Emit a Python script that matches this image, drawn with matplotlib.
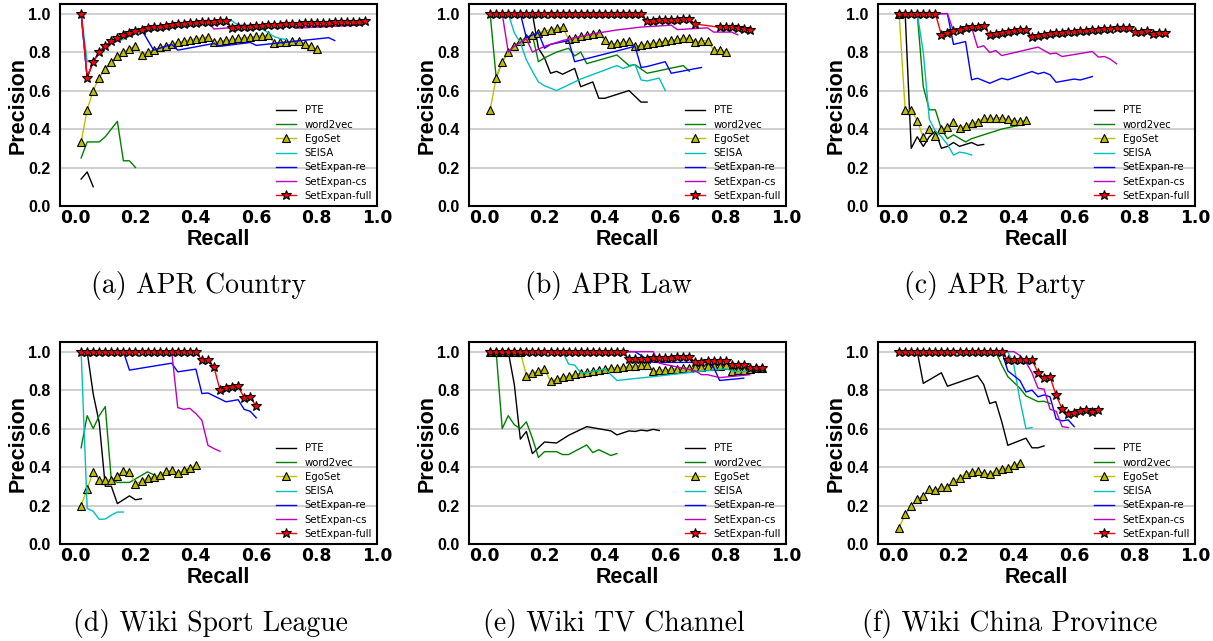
import matplotlib
matplotlib.use("Agg")
import matplotlib.pyplot as plt

# ---------------- data ----------------
LABELS = ["PTE", "word2vec", "EgoSet", "SEISA", "SetExpan-re", "SetExpan-cs", "SetExpan-full"]
CAPTIONS = ["(a) APR Country", "(b) APR Law", "(c) APR Party",
            "(d) Wiki Sport League", "(e) Wiki TV Channel", "(f) Wiki China Province"]
Y_TICKS = [0.0, 0.2, 0.4, 0.6, 0.8, 1.0]
X_TICKS = [0.0, 0.2, 0.4, 0.6, 0.8, 1.0]

RECALL = [0.02, 0.04, 0.06, 0.08, 0.10, 0.12, 0.14, 0.16, 0.18, 0.20, 0.22, 0.24,
          0.26, 0.28, 0.30, 0.32, 0.34, 0.36, 0.38, 0.40, 0.42, 0.44, 0.46, 0.48,
          0.50, 0.52, 0.54, 0.56, 0.58, 0.60, 0.62, 0.64, 0.66, 0.68, 0.70, 0.72,
          0.74, 0.76, 0.78, 0.80, 0.82, 0.84, 0.86, 0.88, 0.90, 0.92, 0.94, 0.96]

# (a) APR Country
a_pte_x = [0.02, 0.04, 0.06]
a_pte_y = [0.14, 0.177, 0.10]
a_w2v_x = [0.02, 0.04, 0.06, 0.08, 0.10, 0.12, 0.14, 0.16, 0.18, 0.20]
a_w2v_y = [0.25, 0.333, 0.333, 0.333, 0.36, 0.40, 0.44, 0.235, 0.235, 0.20]
a_ego_y = [0.333, 0.50, 0.60, 0.667, 0.714, 0.75, 0.778, 0.80, 0.818, 0.833,
           0.786, 0.80, 0.812, 0.824, 0.833, 0.842, 0.85, 0.857, 0.864, 0.87,
           0.875, 0.88, 0.852, 0.857, 0.862, 0.867, 0.871, 0.875, 0.879, 0.882,
           0.886, 0.889, 0.846, 0.85, 0.854, 0.857, 0.86, 0.844, 0.83, 0.815]
a_seisa_y = [1.0, 0.75, 0.75, 0.80, 0.833, 0.846, 0.857, 0.867, 0.882, 0.90,
             0.909, 0.917, 0.923, 0.929, 0.933, 0.9375, 0.941, 0.944, 0.947, 0.95,
             0.952, 0.955, 0.957, 0.96, 0.965, 0.962, 0.94, 0.94, 0.94, 0.94,
             0.92, 0.90, 0.88, 0.87, 0.865]
a_re_x = [0.02, 0.04, 0.06, 0.08, 0.10, 0.12, 0.14, 0.16, 0.18, 0.20, 0.22, 0.26,
          0.32, 0.34, 0.46, 0.48, 0.58, 0.60, 0.84, 0.86]
a_re_y = [1.0, 0.667, 0.75, 0.80, 0.833, 0.857, 0.875, 0.889, 0.90, 0.909, 0.917, 0.81,
          0.84, 0.81, 0.845, 0.83, 0.85, 0.835, 0.875, 0.86]
a_cs_x = [0.02, 0.04, 0.06, 0.08, 0.10, 0.12, 0.14, 0.16, 0.18, 0.20, 0.22, 0.24,
          0.26, 0.28, 0.30, 0.32, 0.34, 0.36, 0.38, 0.40, 0.42, 0.44, 0.46, 0.50,
          0.52, 0.54, 0.60, 0.66, 0.72, 0.74, 0.94]
a_cs_y = [1.0, 0.667, 0.75, 0.80, 0.833, 0.857, 0.875, 0.889, 0.90, 0.909, 0.917, 0.923,
          0.929, 0.933, 0.9375, 0.941, 0.944, 0.947, 0.95, 0.952, 0.955, 0.957, 0.92, 0.925,
          0.926, 0.929, 0.935, 0.941, 0.946, 0.925, 0.94]
a_full_y = [1.0, 0.667, 0.75, 0.80, 0.833, 0.857, 0.875, 0.889, 0.90, 0.909,
            0.917, 0.923, 0.929, 0.933, 0.9375, 0.941, 0.944, 0.947, 0.95, 0.952,
            0.955, 0.957, 0.958, 0.96, 0.962, 0.926, 0.929, 0.931, 0.933, 0.935,
            0.9375, 0.939, 0.941, 0.943, 0.944, 0.946, 0.947, 0.949, 0.95, 0.951,
            0.952, 0.953, 0.955, 0.956, 0.957, 0.958, 0.959, 0.96]

# (b) APR Law
b_pte_x = [0.02, 0.16, 0.18, 0.20, 0.22, 0.24, 0.26, 0.30, 0.32, 0.36, 0.38, 0.40, 0.48, 0.52, 0.54]
b_pte_y = [1.0, 1.0, 0.82, 0.77, 0.69, 0.70, 0.685, 0.715, 0.62, 0.645, 0.56, 0.56, 0.60, 0.54, 0.54]
b_w2v_x = [0.02, 0.04, 0.06, 0.08, 0.10, 0.12, 0.14, 0.16, 0.18, 0.20, 0.24, 0.28, 0.30, 0.32,
           0.34, 0.44, 0.48, 0.50, 0.54, 0.66, 0.68]
b_w2v_y = [1.0, 0.667, 0.75, 0.80, 0.833, 0.857, 0.875, 0.889, 0.75, 0.77, 0.80, 0.82, 0.78, 0.80,
           0.74, 0.785, 0.73, 0.735, 0.69, 0.73, 0.70]
b_ego_y = [0.50, 0.667, 0.75, 0.80, 0.833, 0.857, 0.875, 0.889, 0.90, 0.909,
           0.917, 0.923, 0.929, 0.867, 0.875, 0.882, 0.889, 0.895, 0.90, 0.864,
           0.84, 0.846, 0.852, 0.857, 0.83, 0.836, 0.842, 0.847, 0.852, 0.857,
           0.862, 0.867, 0.871, 0.875, 0.853, 0.857, 0.86, 0.81, 0.813, 0.80]
b_seisa_x = [0.02, 0.08, 0.10, 0.12, 0.14, 0.16, 0.18, 0.20, 0.24, 0.32, 0.44, 0.46, 0.50,
             0.52, 0.54, 0.58, 0.60]
b_seisa_y = [1.0, 1.0, 0.90, 0.85, 0.76, 0.70, 0.645, 0.625, 0.60, 0.66, 0.73, 0.715, 0.735,
             0.655, 0.65, 0.665, 0.60]
b_re_x = [0.02, 0.12, 0.14, 0.16, 0.18, 0.20, 0.22, 0.28, 0.30, 0.40, 0.50, 0.52, 0.54, 0.60, 0.62, 0.72]
b_re_y = [1.0, 1.0, 0.875, 0.889, 0.90, 0.82, 0.84, 0.86, 0.75, 0.79, 0.83, 0.72, 0.725, 0.75, 0.69, 0.72]
b_cs_x = [0.02, 0.04, 0.06, 0.08, 0.10, 0.12, 0.14, 0.16, 0.20, 0.26, 0.30, 0.36, 0.44, 0.52,
          0.62, 0.64, 0.74, 0.76, 0.82, 0.84]
b_cs_y = [1.0, 1.0, 1.0, 0.80, 0.83, 0.85, 0.87, 0.80, 0.83, 0.86, 0.875, 0.895, 0.915, 0.93,
          0.94, 0.917, 0.926, 0.904, 0.904, 0.89]
b_full_x = [0.02, 0.04, 0.06, 0.08, 0.10, 0.12, 0.14, 0.16, 0.18, 0.20, 0.22, 0.24, 0.26,
            0.28, 0.30, 0.32, 0.34, 0.36, 0.38, 0.40, 0.42, 0.44, 0.46, 0.48, 0.50, 0.52,
            0.54, 0.56, 0.58, 0.60, 0.62, 0.64, 0.66, 0.68, 0.70,
            0.78, 0.80, 0.82, 0.84, 0.86, 0.88]
b_full_y = [1.0, 1.0, 1.0, 1.0, 1.0, 1.0, 1.0, 1.0, 1.0, 1.0, 1.0, 1.0, 1.0,
            1.0, 1.0, 1.0, 1.0, 1.0, 1.0, 1.0, 1.0, 1.0, 1.0, 1.0, 1.0, 1.0,
            0.963, 0.964, 0.966, 0.967, 0.968, 0.969, 0.970, 0.971, 0.946,
            0.929, 0.931, 0.933, 0.925, 0.92, 0.915]

# (c) APR Party
c_pte_x = [0.02, 0.04, 0.06, 0.08, 0.10, 0.12, 0.14, 0.16, 0.18, 0.20, 0.22, 0.24, 0.26, 0.28, 0.30]
c_pte_y = [1.0, 1.0, 0.30, 0.36, 0.31, 0.36, 0.39, 0.30, 0.31, 0.33, 0.31, 0.32, 0.33, 0.315, 0.32]
c_w2v_x = [0.02, 0.08, 0.10, 0.12, 0.14, 0.16, 0.18, 0.20, 0.24, 0.26, 0.32, 0.36, 0.42]
c_w2v_y = [1.0, 1.0, 0.62, 0.50, 0.50, 0.40, 0.35, 0.37, 0.333, 0.35, 0.38, 0.40, 0.42]
c_ego_y = [1.0, 0.50, 0.50, 0.444, 0.357, 0.40, 0.364, 0.40, 0.409, 0.435,
           0.407, 0.414, 0.433, 0.438, 0.455, 0.455, 0.457, 0.46, 0.45, 0.444,
           0.442, 0.445]
c_seisa_x = [0.02, 0.08, 0.10, 0.12, 0.14, 0.16, 0.18, 0.20, 0.22, 0.24, 0.26]
c_seisa_y = [1.0, 1.0, 0.80, 0.45, 0.39, 0.36, 0.32, 0.265, 0.28, 0.275, 0.265]
c_re_x = [0.02, 0.18, 0.20, 0.24, 0.26, 0.28, 0.32, 0.36, 0.38, 0.46, 0.48, 0.50, 0.52, 0.54,
          0.60, 0.62, 0.66]
c_re_y = [1.0, 1.0, 0.84, 0.855, 0.656, 0.664, 0.638, 0.664, 0.656, 0.699, 0.687, 0.695, 0.682,
          0.643, 0.66, 0.655, 0.673]
c_cs_x = [0.02, 0.18, 0.20, 0.22, 0.24, 0.26, 0.28, 0.30, 0.32, 0.34, 0.36, 0.48, 0.52, 0.54,
          0.56, 0.66, 0.68, 0.70, 0.72, 0.74]
c_cs_y = [1.0, 1.0, 0.909, 0.917, 0.923, 0.929, 0.824, 0.833, 0.798, 0.808, 0.782, 0.826, 0.791,
          0.795, 0.777, 0.803, 0.774, 0.777, 0.763, 0.739]
c_full_y = [1.0, 1.0, 1.0, 1.0, 1.0, 1.0, 1.0,
            0.889, 0.90, 0.909, 0.917, 0.923, 0.929, 0.933, 0.9375,
            0.889, 0.895, 0.90, 0.905, 0.909, 0.913, 0.917,
            0.88, 0.885, 0.889, 0.893, 0.897, 0.90, 0.903, 0.906, 0.909, 0.912,
            0.914, 0.917, 0.919, 0.921, 0.923, 0.925, 0.927,
            0.905, 0.907, 0.909, 0.895, 0.897, 0.90]

# (d) Wiki Sport League
d_pte_x = [0.02, 0.04, 0.06, 0.08, 0.10, 0.12, 0.14, 0.16, 0.18, 0.20, 0.22]
d_pte_y = [1.0, 1.0, 0.78, 0.63, 0.30, 0.30, 0.21, 0.23, 0.25, 0.23, 0.235]
d_w2v_x = [0.02, 0.04, 0.06, 0.08, 0.10, 0.12, 0.14, 0.18, 0.24, 0.26]
d_w2v_y = [0.50, 0.667, 0.60, 0.667, 0.714, 0.333, 0.32, 0.32, 0.375, 0.36]
d_ego_y = [0.20, 0.286, 0.375, 0.333, 0.333, 0.333, 0.353, 0.38, 0.375, 0.313,
           0.326, 0.343, 0.35, 0.357, 0.378, 0.383, 0.369, 0.383, 0.397, 0.409]
d_seisa_x = [0.02, 0.04, 0.06, 0.08, 0.10, 0.12, 0.14, 0.16]
d_seisa_y = [1.0, 0.185, 0.17, 0.128, 0.13, 0.15, 0.166, 0.166]
d_re_x = [0.02, 0.16, 0.18, 0.32, 0.34, 0.40, 0.42, 0.44, 0.50, 0.54, 0.56, 0.58, 0.60]
d_re_y = [1.0, 1.0, 0.904, 0.94, 0.895, 0.909, 0.782, 0.785, 0.739, 0.75, 0.70, 0.69, 0.656]
d_cs_x = [0.02, 0.32, 0.34, 0.36, 0.38, 0.40, 0.42, 0.44, 0.46, 0.48]
d_cs_y = [1.0, 1.0, 0.709, 0.70, 0.705, 0.678, 0.643, 0.513, 0.496, 0.482]
d_full_y = [1.0, 1.0, 1.0, 1.0, 1.0, 1.0, 1.0, 1.0, 1.0, 1.0,
            1.0, 1.0, 1.0, 1.0, 1.0, 1.0, 1.0, 1.0, 1.0, 1.0,
            0.955, 0.957, 0.92, 0.80, 0.81, 0.815, 0.82, 0.76, 0.765, 0.715]

# (e) Wiki TV Channel
e_pte_x = [0.02, 0.08, 0.10, 0.12, 0.14, 0.16, 0.20, 0.24, 0.28, 0.34, 0.42, 0.44, 0.48, 0.50,
           0.52, 0.54, 0.56, 0.58]
e_pte_y = [1.0, 1.0, 0.83, 0.545, 0.585, 0.47, 0.53, 0.525, 0.565, 0.61, 0.588, 0.567, 0.588,
           0.585, 0.592, 0.588, 0.596, 0.59]
e_w2v_x = [0.02, 0.04, 0.06, 0.08, 0.10, 0.12, 0.14, 0.16, 0.18, 0.20, 0.24, 0.26, 0.28, 0.34,
           0.36, 0.38, 0.42, 0.44]
e_w2v_y = [1.0, 1.0, 0.60, 0.667, 0.62, 0.60, 0.635, 0.55, 0.45, 0.48, 0.48, 0.465, 0.465, 0.515,
           0.475, 0.49, 0.46, 0.47]
e_ego_y = [1.0, 1.0, 1.0, 1.0, 1.0, 1.0,
           0.875, 0.889, 0.90, 0.909,
           0.846, 0.857, 0.867, 0.875, 0.882, 0.889, 0.895, 0.90, 0.905, 0.909,
           0.913, 0.917, 0.92, 0.923, 0.926, 0.929, 0.931,
           0.90, 0.903, 0.906, 0.909, 0.912, 0.914, 0.917, 0.919, 0.921, 0.923,
           0.925, 0.927, 0.929,
           0.90, 0.902, 0.905, 0.91, 0.913, 0.915]
e_seisa_x = [0.02, 0.26, 0.28, 0.30, 0.32, 0.34, 0.40, 0.44, 0.56, 0.70, 0.80, 0.84, 0.92]
e_seisa_y = [1.0, 1.0, 0.935, 0.93, 0.89, 0.89, 0.91, 0.85, 0.87, 0.895, 0.91, 0.895, 0.90]
e_re_x = [0.02, 0.50, 0.54, 0.56, 0.74, 0.76, 0.78, 0.86]
e_re_y = [1.0, 1.0, 0.96, 0.944, 0.944, 0.92, 0.85, 0.862]
e_cs_x = [0.02, 0.56, 0.58, 0.64, 0.70, 0.72, 0.74, 0.78, 0.88]
e_cs_y = [1.0, 1.0, 0.94, 0.92, 0.90, 0.88, 0.88, 0.865, 0.88]
e_full_y = [1.0, 1.0, 1.0, 1.0, 1.0, 1.0, 1.0, 1.0, 1.0, 1.0, 1.0, 1.0,
            1.0, 1.0, 1.0, 1.0, 1.0, 1.0, 1.0, 1.0, 1.0, 1.0, 1.0,
            0.96, 0.962, 0.963, 0.964, 0.966, 0.967, 0.968, 0.969, 0.97, 0.971, 0.972,
            0.946, 0.947, 0.949, 0.95, 0.951, 0.952,
            0.93, 0.932, 0.933, 0.913, 0.915, 0.917]

# (f) Wiki China Province
f_pte_x = [0.02, 0.08, 0.10, 0.16, 0.18, 0.28, 0.30, 0.32, 0.34, 0.36, 0.38, 0.44, 0.46, 0.48, 0.50]
f_pte_y = [1.0, 1.0, 0.835, 0.89, 0.82, 0.875, 0.83, 0.73, 0.74, 0.635, 0.513, 0.55, 0.50, 0.50, 0.51]
f_w2v_x = [0.02, 0.34, 0.36, 0.38, 0.42, 0.44, 0.48, 0.50, 0.52]
f_w2v_y = [1.0, 1.0, 0.93, 0.87, 0.81, 0.77, 0.74, 0.742, 0.73]
f_ego_y = [0.084, 0.154, 0.20, 0.236, 0.25, 0.284, 0.279, 0.296, 0.296, 0.326,
           0.343, 0.366, 0.374, 0.38, 0.369, 0.362, 0.38, 0.392, 0.395, 0.409, 0.421]
f_seisa_x = [0.02, 0.38, 0.40, 0.42, 0.44, 0.46]
f_seisa_y = [1.0, 1.0, 0.93, 0.75, 0.60, 0.605]
f_re_x = [0.02, 0.36, 0.38, 0.40, 0.42, 0.44, 0.46, 0.48, 0.50, 0.52, 0.54, 0.56, 0.58, 0.60]
f_re_y = [1.0, 1.0, 0.90, 0.875, 0.85, 0.79, 0.80, 0.765, 0.775, 0.765, 0.65, 0.64, 0.645, 0.61]
f_cs_x = [0.02, 0.40, 0.42, 0.44, 0.46, 0.48, 0.50, 0.52, 0.54, 0.56, 0.58]
f_cs_y = [1.0, 1.0, 0.98, 0.945, 0.89, 0.81, 0.805, 0.70, 0.69, 0.61, 0.605]
f_full_y = [1.0, 1.0, 1.0, 1.0, 1.0, 1.0, 1.0, 1.0, 1.0, 1.0, 1.0, 1.0, 1.0, 1.0, 1.0, 1.0, 1.0, 1.0,
            0.956, 0.955, 0.955, 0.957, 0.958,
            0.89, 0.864, 0.867, 0.773, 0.702, 0.676, 0.68, 0.689, 0.696, 0.688, 0.694]

# ---------------- assemble ----------------
panels = [
    [(a_pte_x, a_pte_y), (a_w2v_x, a_w2v_y), (RECALL[:len(a_ego_y)], a_ego_y),
     (RECALL[:len(a_seisa_y)], a_seisa_y), (a_re_x, a_re_y), (a_cs_x, a_cs_y),
     (RECALL[:len(a_full_y)], a_full_y)],
    [(b_pte_x, b_pte_y), (b_w2v_x, b_w2v_y), (RECALL[:len(b_ego_y)], b_ego_y),
     (b_seisa_x, b_seisa_y), (b_re_x, b_re_y), (b_cs_x, b_cs_y), (b_full_x, b_full_y)],
    [(c_pte_x, c_pte_y), (c_w2v_x, c_w2v_y), (RECALL[:len(c_ego_y)], c_ego_y),
     (c_seisa_x, c_seisa_y), (c_re_x, c_re_y), (c_cs_x, c_cs_y),
     (RECALL[:len(c_full_y)], c_full_y)],
    [(d_pte_x, d_pte_y), (d_w2v_x, d_w2v_y), (RECALL[:len(d_ego_y)], d_ego_y),
     (d_seisa_x, d_seisa_y), (d_re_x, d_re_y), (d_cs_x, d_cs_y),
     (RECALL[:len(d_full_y)], d_full_y)],
    [(e_pte_x, e_pte_y), (e_w2v_x, e_w2v_y), (RECALL[:len(e_ego_y)], e_ego_y),
     (e_seisa_x, e_seisa_y), (e_re_x, e_re_y), (e_cs_x, e_cs_y),
     (RECALL[:len(e_full_y)], e_full_y)],
    [(f_pte_x, f_pte_y), (f_w2v_x, f_w2v_y), (RECALL[:len(f_ego_y)], f_ego_y),
     (f_seisa_x, f_seisa_y), (f_re_x, f_re_y), (f_cs_x, f_cs_y),
     (RECALL[:len(f_full_y)], f_full_y)],
]

STYLES = [
    dict(color="k", lw=1.0),
    dict(color="g", lw=1.0),
    dict(color="y", lw=1.0, marker="^", ms=6.3, mfc="y", mec="k", mew=0.8),
    dict(color="c", lw=1.0),
    dict(color="b", lw=1.0),
    dict(color="m", lw=1.0),
    dict(color="r", lw=1.0, marker="*", ms=7.5, mfc="r", mec="k", mew=0.8),
]

W, H = 1213, 641
fig = plt.figure(figsize=(W / 100, H / 100), dpi=100)

AX_LEFT = [60, 469, 878]
AX_W = 317
ROW_TOP = [4, 342]
AX_H = 202
CAP_X = [199, 608, 995, 210, 614, 1010]
CAP_Y = [285, 623]

XTICKFONT = dict(family="DejaVu Sans", weight="bold", size=12.3)
YTICKFONT = dict(family="Liberation Sans", weight="bold", size=11.5)
LABELFONT = dict(family="Liberation Sans", weight="bold", size=15.5)

for i, series in enumerate(panels):
    r, c = divmod(i, 3)
    l, t = AX_LEFT[c], ROW_TOP[r]
    ax = fig.add_axes([l / W, 1 - (t + AX_H) / H, AX_W / W, AX_H / H])
    ax.set_facecolor("white")
    ax.set_axisbelow(True)
    ax.yaxis.grid(True, color="#cfcfcf", lw=1.4)
    ax.xaxis.grid(False)
    for (xs, ys), lab, st in zip(series, LABELS, STYLES):
        ax.plot(xs, ys, label=lab, **st)
    ax.set_xlim(-0.05, 1.0)
    ax.set_ylim(0.0, 1.05)
    ax.set_xticks(X_TICKS)
    ax.set_yticks(Y_TICKS)
    ax.set_xticklabels([f"{v:.1f}" for v in X_TICKS], fontdict=XTICKFONT)
    ax.set_yticklabels([f"{v:.1f}" for v in Y_TICKS], fontdict=YTICKFONT)
    ax.tick_params(axis="x", length=0, pad=2.5)
    ax.tick_params(axis="y", length=0, pad=7)
    for sp in ax.spines.values():
        sp.set_color("black")
        sp.set_linewidth(1.5)
    ax.set_xlabel("Recall", fontdict=LABELFONT)
    ax.set_ylabel("Precision", fontdict=LABELFONT)
    ax.xaxis.set_label_coords(0.5, -0.112)
    ax.yaxis.set_label_coords(-0.098, 0.5)
    ax.legend(loc="lower right", frameon=False, prop=dict(family="DejaVu Sans", size=7.3),
              handlelength=2.0, handletextpad=0.8, labelspacing=0.42, borderaxespad=0.1,
              numpoints=1)
    fig.text(CAP_X[i] / W, 1 - CAP_Y[r] / H, CAPTIONS[i], family="cmr10", size=20,
             ha="center", va="center")

fig.savefig("out.png", dpi=100)
